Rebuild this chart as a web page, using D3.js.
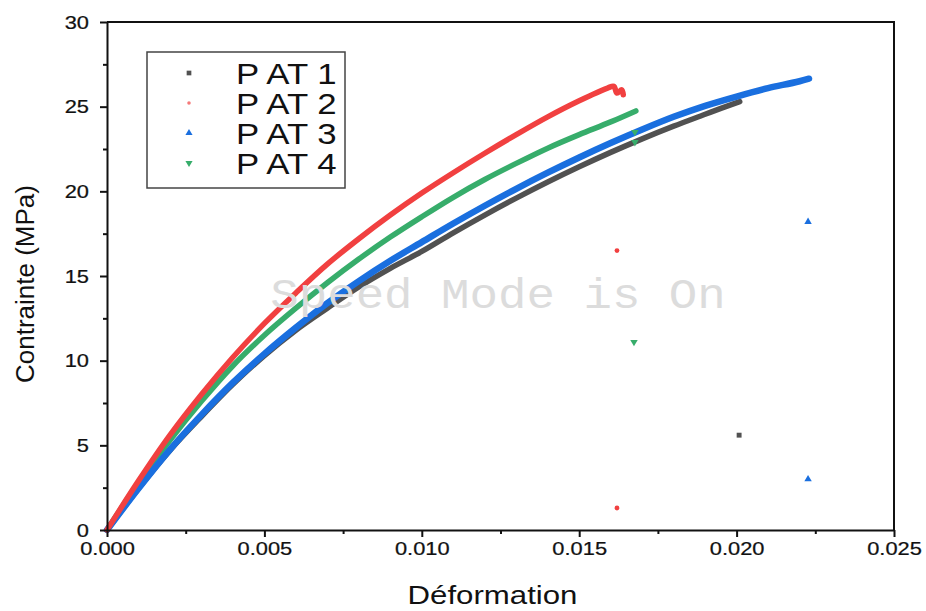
<!DOCTYPE html>
<html>
<head>
<meta charset="utf-8">
<script src="https://cdn.jsdelivr.net/npm/d3@7"></script>
<style>
  html, body { margin: 0; padding: 0; background: #fff; }
  svg { display: block; }
</style>
</head>
<body>
<svg id="chart" width="926" height="611"></svg>
<script>
// Stress–strain curves for the four PAT specimens
const seriesNames = ["P AT 1", "P AT 2", "P AT 3", "P AT 4"];
const seriesColors = ["#515151", "#F14040", "#1A6FDF", "#37AD6B"];
const seriesSymbols = [d3.symbolSquare, d3.symbolCircle, d3.symbolTriangle, d3.symbolTriangle];

const pat1Strain = [0, 0.001, 0.002, 0.003, 0.004, 0.005, 0.006, 0.007, 0.008, 0.009, 0.010, 0.011, 0.012, 0.013, 0.014, 0.015, 0.016, 0.017, 0.018, 0.019, 0.0195, 0.0201];
const pat1Stress = [0, 2.45, 4.7, 6.7, 8.6, 10.3, 11.8, 13.1, 14.35, 15.45, 16.45, 17.55, 18.6, 19.6, 20.55, 21.45, 22.3, 23.1, 23.85, 24.55, 24.9, 25.3];

const pat2Strain = [0, 0.001, 0.002, 0.003, 0.004, 0.005, 0.006, 0.007, 0.008, 0.009, 0.010, 0.011, 0.012, 0.013, 0.014, 0.015, 0.0159, 0.0161, 0.0162, 0.01635, 0.0164];
const pat2Stress = [0, 2.9, 5.6, 8.0, 10.2, 12.2, 14.0, 15.7, 17.2, 18.6, 19.9, 21.1, 22.25, 23.35, 24.4, 25.35, 26.1, 26.2, 25.8, 26.0, 25.7];

const pat3Strain = [0, 0.001, 0.002, 0.003, 0.004, 0.005, 0.006, 0.007, 0.008, 0.009, 0.010, 0.011, 0.012, 0.013, 0.014, 0.015, 0.016, 0.017, 0.018, 0.019, 0.020, 0.021, 0.022, 0.0223];
const pat3Stress = [0, 2.45, 4.75, 6.8, 8.7, 10.4, 11.95, 13.4, 14.7, 15.9, 17.0, 18.1, 19.15, 20.15, 21.1, 22.0, 22.85, 23.65, 24.4, 25.05, 25.6, 26.1, 26.5, 26.65];

const pat4Strain = [0, 0.001, 0.002, 0.003, 0.004, 0.005, 0.006, 0.007, 0.008, 0.009, 0.010, 0.011, 0.012, 0.013, 0.014, 0.015, 0.016, 0.0168];
const pat4Stress = [0, 2.8, 5.3, 7.6, 9.7, 11.5, 13.1, 14.6, 16.0, 17.3, 18.5, 19.65, 20.7, 21.65, 22.55, 23.35, 24.1, 24.75];

// Isolated points recorded after fracture
const pat1TailStrain = [0.02008];
const pat1TailStress = [5.6];
const pat2TailStrain = [0.0162, 0.0162];
const pat2TailStress = [16.5, 1.3];
const pat3TailStrain = [0.02227, 0.02227];
const pat3TailStress = [18.2, 3.0];
const pat4TailStrain = [0.01677, 0.01677, 0.01674];
const pat4TailStress = [23.5, 22.9, 11.1];

const xTicks = [0, 0.005, 0.010, 0.015, 0.020, 0.025];
const xMinorTicks = [0.0025, 0.0075, 0.0125, 0.0175, 0.0225];
const yTicks = [0, 5, 10, 15, 20, 25, 30];
const yMinorTicks = [2.5, 7.5, 12.5, 17.5, 22.5, 27.5];

const xLabel = "Déformation";
const yLabel = "Contrainte (MPa)";
const watermark = "Speed Mode is On";

const curves = [
  [pat1Strain, pat1Stress], [pat2Strain, pat2Stress],
  [pat3Strain, pat3Stress], [pat4Strain, pat4Stress]
];
const tails = [
  [pat1TailStrain, pat1TailStress], [pat2TailStrain, pat2TailStress],
  [pat3TailStrain, pat3TailStress], [pat4TailStrain, pat4TailStress]
];

const SANS = "Liberation Sans, Arial, sans-serif";
const INK = "#111";
const SX = 1.15; // horizontal widening of text glyphs
const svg = d3.select("#chart");
const plot = { left: 107, right: 894, top: 22, bottom: 530 };

const x = d3.scaleLinear().domain([0, 0.025]).range([plot.left, plot.right]);
const y = d3.scaleLinear().domain([0, 30]).range([plot.bottom, plot.top]);

svg.append("rect").attr("width", 926).attr("height", 611).attr("fill", "#fff");

// Curves: dense sample markers drawn as a thick band
const smooth = d3.line().x(d => x(d[0])).y(d => y(d[1])).curve(d3.curveMonotoneX);
const hooked = d3.line().x(d => x(d[0])).y(d => y(d[1])).curve(d3.curveCatmullRom);
const drawOrder = [0, 3, 2, 1];
drawOrder.forEach(i => {
  const [sx, sy] = curves[i];
  const pts = sx.map((v, k) => [v, sy[k]]);
  svg.append("path")
    .attr("d", i === 1 ? hooked(pts) : smooth(pts))
    .attr("fill", "none")
    .attr("stroke", seriesColors[i])
    .attr("stroke-width", i === 2 ? 6.5 : 5.5)
    .attr("stroke-linejoin", "round")
    .attr("stroke-linecap", "round");
});

function symbolPath(i, size) {
  return d3.symbol().type(seriesSymbols[i]).size(size)();
}

// Tail points
tails.forEach(([sx, sy], i) => {
  sx.forEach((v, k) => {
    svg.append("path")
      .attr("d", symbolPath(i, i === 1 ? 18 : 24))
      .attr("transform", `translate(${x(v)},${y(sy[k])})${i === 3 ? " rotate(180)" : ""}`)
      .attr("fill", seriesColors[i]);
  });
});

// Frame
svg.append("path")
  .attr("d", `M${plot.left},${plot.top}H${plot.right}V${plot.bottom}`)
  .attr("fill", "none").attr("stroke", INK).attr("stroke-width", 2);

// Axes
const xAxis = svg.append("g").attr("transform", `translate(0,${plot.bottom})`)
  .call(d3.axisBottom(x).tickValues(xTicks).tickFormat(d3.format(".3f")).tickSizeInner(7).tickSizeOuter(0).tickPadding(5));
svg.append("g").attr("transform", `translate(0,${plot.bottom})`)
  .call(d3.axisBottom(x).tickValues(xMinorTicks).tickFormat("").tickSizeInner(4).tickSizeOuter(0))
  .select(".domain").remove();
const yAxis = svg.append("g").attr("transform", `translate(${plot.left},0)`)
  .call(d3.axisLeft(y).tickValues(yTicks).tickFormat(d3.format("d")).tickSizeInner(7).tickSizeOuter(0).tickPadding(5));
svg.append("g").attr("transform", `translate(${plot.left},0)`)
  .call(d3.axisLeft(y).tickValues(yMinorTicks).tickFormat("").tickSizeInner(4).tickSizeOuter(0))
  .select(".domain").remove();

svg.selectAll(".domain").attr("stroke", INK).attr("stroke-width", 2);
svg.selectAll(".tick line").attr("stroke", INK).attr("stroke-width", 2);

xAxis.selectAll(".tick text")
  .attr("font-size", 19).attr("fill", INK).attr("font-family", SANS)
  .attr("stroke", INK).attr("stroke-width", 0.25)
  .attr("y", 0)
  .attr("transform", `translate(0,12) scale(${SX},1)`)
  .attr("dy", "0.71em");
yAxis.selectAll(".tick text")
  .attr("font-size", 19).attr("fill", INK).attr("font-family", SANS)
  .attr("stroke", INK).attr("stroke-width", 0.25)
  .attr("x", 0)
  .attr("transform", `translate(-18,0) scale(${SX},1)`);

// Axis titles
svg.append("text")
  .attr("transform", `translate(${(plot.left + plot.right) / 2 - 8},${604}) scale(1.2,1)`)
  .attr("text-anchor", "middle").attr("font-size", 26)
  .attr("font-family", SANS).attr("fill", INK)
  .text(xLabel);
svg.append("text")
  .attr("transform", `translate(34,${(plot.top + plot.bottom) / 2 + 8}) rotate(-90)`)
  .attr("text-anchor", "middle").attr("font-size", 26)
  .attr("font-family", SANS).attr("fill", INK)
  .text(yLabel);

// Legend
const legend = svg.append("g").attr("transform", "translate(147,52)");
legend.append("rect").attr("width", 198).attr("height", 136)
  .attr("fill", "#fff").attr("stroke", "#444").attr("stroke-width", 1.5);
seriesNames.forEach((name, i) => {
  const cy = 21 + i * 30;
  legend.append("path")
    .attr("d", symbolPath(i, i === 1 ? 10 : 22))
    .attr("transform", `translate(42,${cy})${i === 3 ? " rotate(180)" : ""}`)
    .attr("fill", seriesColors[i]).attr("opacity", i === 1 ? 0.7 : 1);
  legend.append("text")
    .attr("transform", `translate(89,${cy + 11}) scale(1.2,1)`)
    .attr("font-size", 29).attr("fill", INK).attr("font-family", SANS)
    .text(name);
});

// Software watermark
svg.append("text")
  .attr("transform", `translate(498,308) scale(1.13,1)`)
  .attr("text-anchor", "middle")
  .style("font-family", "'Liberation Mono', 'DejaVu Sans Mono', monospace")
  .style("font-size", "42px")
  .style("fill", "#dcdcdc")
  .text(watermark);
</script>
</body>
</html>
